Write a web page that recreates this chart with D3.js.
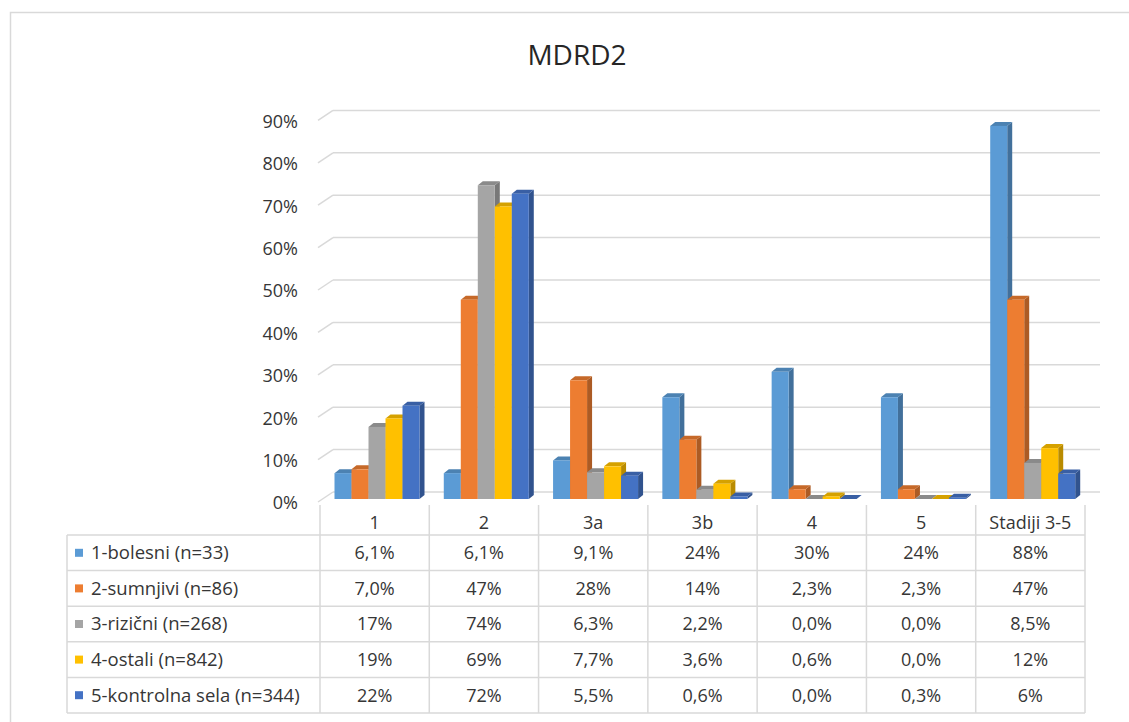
<!DOCTYPE html>
<html>
<head>
<meta charset="utf-8">
<script src="https://cdn.jsdelivr.net/npm/d3@7"></script>
<style>
  body { margin: 0; background: #fff; }
  text { font-family: "Open Sans", Lato, sans-serif; fill: #363636; }
</style>
</head>
<body>
<svg id="chart" width="1129" height="722"></svg>
<script>
var categories = ["1", "2", "3a", "3b", "4", "5", "Stadiji 3-5"];
var seriesNames = ["1-bolesni (n=33)", "2-sumnjivi (n=86)", "3-rizični (n=268)", "4-ostali (n=842)", "5-kontrolna sela (n=344)"];
var bolesni   = [6.1, 6.1, 9.1, 24, 30, 24, 88];
var sumnjivi  = [7.0, 47, 28, 14, 2.3, 2.3, 47];
var rizicni   = [17, 74, 6.3, 2.2, 0.0, 0.0, 8.5];
var ostali    = [19, 69, 7.7, 3.6, 0.6, 0.0, 12];
var kontrolna = [22, 72, 5.5, 0.6, 0.0, 0.3, 6];
var bolesniLbl   = ["6,1%", "6,1%", "9,1%", "24%", "30%", "24%", "88%"];
var sumnjiviLbl  = ["7,0%", "47%", "28%", "14%", "2,3%", "2,3%", "47%"];
var rizicniLbl   = ["17%", "74%", "6,3%", "2,2%", "0,0%", "0,0%", "8,5%"];
var ostaliLbl    = ["19%", "69%", "7,7%", "3,6%", "0,6%", "0,0%", "12%"];
var kontrolnaLbl = ["22%", "72%", "5,5%", "0,6%", "0,0%", "0,3%", "6%"];
var yTicks = [0, 10, 20, 30, 40, 50, 60, 70, 80, 90];

var values = [bolesni, sumnjivi, rizicni, ostali, kontrolna];
var labels = [bolesniLbl, sumnjiviLbl, rizicniLbl, ostaliLbl, kontrolnaLbl];
var colors = ["#5B9BD5", "#ED7D31", "#A5A5A5", "#FFC000", "#4472C4"];

var svg = d3.select("#chart");

// outer frame
svg.append("rect")
    .attr("x", 10.5).attr("y", 12.5)
    .attr("width", 1130).attr("height", 720)
    .attr("fill", "none").attr("stroke", "#d9d9d9").attr("stroke-width", 1.5);

svg.append("text")
    .attr("x", 577).attr("y", 65)
    .attr("text-anchor", "middle")
    .style("font-size", "28px")
    .style("fill", "#262626")
    .text("MDRD2");

var x = d3.scaleBand().domain(categories).range([320, 1085]);
var y = d3.scaleLinear().domain([0, 90]).range([499, 117.4]);

var depthX = 15, backOff = -7, frontOff = 3;

// gridlines (back wall + left wall diagonal)
var grid = svg.append("g");
yTicks.forEach(function(t) {
  grid.append("line")
      .attr("x1", 318 + depthX).attr("x2", 1100)
      .attr("y1", y(t) + backOff).attr("y2", y(t) + backOff)
      .attr("stroke", "#d9d9d9").attr("stroke-width", 1.5);
  grid.append("line")
      .attr("x1", 318).attr("x2", 318 + depthX)
      .attr("y1", y(t) + frontOff).attr("y2", y(t) + backOff)
      .attr("stroke", "#d9d9d9").attr("stroke-width", 1.5);
  grid.append("text")
      .attr("x", 298).attr("y", y(t) + frontOff + 1)
      .attr("dy", "0.35em")
      .attr("text-anchor", "end")
      .style("font-size", "18px")
      .text(t + "%");
});

// 3D bars
var barW = 17, dx = 5, dy = -4;
var bars = svg.append("g");
categories.forEach(function(c, ci) {
  values.forEach(function(arr, si) {
    var v = arr[ci];
    var x0 = x(c) + 14.5 + si * barW;
    var y0 = y(v), yb = y(0);
    var col = d3.color(colors[si]);
    // side face
    bars.append("path")
        .attr("d", "M" + (x0 + barW) + "," + y0 + "L" + (x0 + barW + dx) + "," + (y0 + dy) +
                   "L" + (x0 + barW + dx) + "," + (yb + dy) + "L" + (x0 + barW) + "," + yb + "Z")
        .attr("fill", col.darker(0.9));
    // top face
    bars.append("path")
        .attr("d", "M" + x0 + "," + y0 + "L" + (x0 + dx) + "," + (y0 + dy) +
                   "L" + (x0 + barW + dx) + "," + (y0 + dy) + "L" + (x0 + barW) + "," + y0 + "Z")
        .attr("fill", col.darker(0.5));
    // front face
    bars.append("rect")
        .attr("x", x0).attr("y", y0)
        .attr("width", barW).attr("height", yb - y0)
        .attr("fill", colors[si]);
  });
});

// data table
var tbl = svg.append("g");
var rowTop = 535, rowH = 35.6, tblLeft = 67, tblRight = 1085;
var lineCol = "#d9d9d9";

for (var r = 0; r <= 5; r++) {
  tbl.append("line")
      .attr("x1", tblLeft).attr("x2", tblRight)
      .attr("y1", rowTop + r * rowH).attr("y2", rowTop + r * rowH)
      .attr("stroke", lineCol).attr("stroke-width", 1.5);
}
var bottom = rowTop + 5 * rowH;
tbl.append("line")
    .attr("x1", tblLeft).attr("x2", tblLeft)
    .attr("y1", rowTop).attr("y2", bottom)
    .attr("stroke", lineCol).attr("stroke-width", 1.5);
categories.concat([null]).forEach(function(c, i) {
  var xx = c === null ? tblRight : x(c);
  tbl.append("line")
      .attr("x1", xx).attr("x2", xx)
      .attr("y1", 505).attr("y2", bottom)
      .attr("stroke", lineCol).attr("stroke-width", 1.5);
});

categories.forEach(function(c) {
  tbl.append("text")
      .attr("x", x(c) + x.bandwidth() / 2).attr("y", 523)
      .attr("dy", "0.35em")
      .attr("text-anchor", "middle")
      .style("font-size", "18px")
      .text(c);
});

seriesNames.forEach(function(name, si) {
  var cy = rowTop + si * rowH + rowH / 2;
  tbl.append("rect")
      .attr("x", 75).attr("y", cy - 4)
      .attr("width", 8).attr("height", 8)
      .attr("fill", colors[si]);
  tbl.append("text")
      .attr("x", 91).attr("y", cy)
      .attr("dy", "0.35em")
      .style("font-size", "18.5px")
      .text(name);
  categories.forEach(function(c, ci) {
    tbl.append("text")
        .attr("x", x(c) + x.bandwidth() / 2).attr("y", cy)
        .attr("dy", "0.35em")
        .attr("text-anchor", "middle")
        .style("font-size", "18px")
        .text(labels[si][ci]);
  });
});
</script>
</body>
</html>
